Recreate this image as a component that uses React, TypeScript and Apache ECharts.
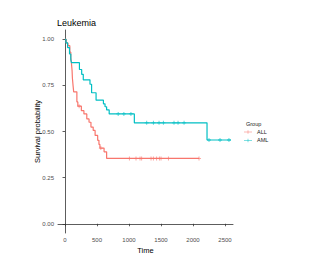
import React, { useEffect, useRef } from "react";
import * as echarts from "echarts";

const titleText = "Leukemia";
const groupNames = ["ALL", "AML"];
const groupColors = ["#F8766D", "#00BFC4"];

const allTimes = [0, 20, 45, 75, 90, 100, 110, 115, 125, 135, 185, 200, 255, 295, 340, 375, 405, 440, 470, 510, 530, 545, 610, 650, 2094];
const allSurv = [1, 0.98, 0.965, 0.93, 0.9, 0.87, 0.83, 0.79, 0.75, 0.715, 0.66, 0.637, 0.613, 0.595, 0.568, 0.55, 0.524, 0.506, 0.479, 0.452, 0.43, 0.41, 0.39, 0.354, 0.354];
const allCensor = [220, 560, 1005, 1109, 1172, 1198, 1344, 1380, 1432, 1474, 1500, 1615, 2094];

const amlTimes = [0, 15, 40, 70, 90, 100, 225, 260, 285, 390, 415, 485, 600, 625, 650, 690, 1083, 2219, 2594];
const amlSurv = [1, 0.98, 0.955, 0.92, 0.89, 0.873, 0.836, 0.81, 0.78, 0.756, 0.71, 0.67, 0.65, 0.634, 0.617, 0.595, 0.547, 0.454, 0.454];
const amlCensor = [830, 920, 1030, 1277, 1380, 1469, 1536, 1703, 1766, 1860, 2250, 2422, 2562];

const xTicks = [0, 500, 1000, 1500, 2000, 2500];
const yTicks = [0, 0.25, 0.5, 0.75, 1];

function survAt(times: number[], surv: number[], t: number) {
  let s = surv[0];
  for (let i = 0; i < times.length; i++) {
    if (times[i] <= t) s = surv[i];
  }
  return s;
}

const plusPath = "path://M4,0H6V4H10V6H6V10H4V6H0V4H4Z";
const legendIcon = "path://M0,4.5H16V5.5H0Z M7.5,1.5H8.5V8.5H7.5Z";

export default function App() {
  const ref = useRef<HTMLDivElement>(null);
  useEffect(() => {
    if (!ref.current) return;
    const chart = echarts.init(ref.current, null, { renderer: "svg" });
    const font = "Liberation Sans, Arial, sans-serif";
    const curves = [
      { times: allTimes, surv: allSurv, censor: allCensor },
      { times: amlTimes, surv: amlSurv, censor: amlCensor },
    ];
    const series: any[] = [];
    curves.forEach((c, i) => {
      series.push({
        name: groupNames[i],
        type: "line",
        step: "end",
        showSymbol: false,
        symbol: "none",
        data: c.times.map((t, j) => [t, c.surv[j]]),
        lineStyle: { color: groupColors[i], width: 1.2 },
        itemStyle: { color: groupColors[i] },
        z: 2,
      });
      series.push({
        name: groupNames[i] + "-censor",
        type: "scatter",
        symbol: plusPath,
        symbolSize: 4,
        data: c.censor.map((t) => [t, survAt(c.times, c.surv, t)]),
        itemStyle: { color: groupColors[i] },
        z: 3,
      });
    });
    chart.setOption({
      animation: false,
      title: [
        {
          text: titleText,
          left: 57,
          top: 18,
          padding: 0,
          textStyle: { fontFamily: font, fontSize: 9, fontWeight: "normal", color: "#000" },
        },
        {
          text: "Group",
          left: 246,
          top: 121,
          padding: 0,
          textStyle: { fontFamily: font, fontSize: 5.5, fontWeight: "normal", color: "#222" },
        },
      ],
      legend: {
        data: groupNames,
        orient: "vertical",
        left: 244,
        top: 129,
        padding: 0,
        itemWidth: 8,
        itemHeight: 5,
        itemGap: 2.4,
        icon: legendIcon,
        textStyle: { fontFamily: font, fontSize: 5.5, color: "#222" },
      },
      grid: { left: 58, right: 78, top: 30, bottom: 24, containLabel: false },
      xAxis: {
        type: "value",
        min: -110,
        max: 2625,
        name: "Time",
        nameLocation: "middle",
        nameGap: 13,
        nameMoveOverlap: false,
        nameTextStyle: { fontFamily: font, fontSize: 7.5, color: "#000" },
        splitLine: { show: false },
        axisLine: { show: true, lineStyle: { color: "#333", width: 0.8 } },
        axisTick: { show: true, length: 2.5, customValues: xTicks, lineStyle: { color: "#333", width: 0.8 } },
        axisLabel: {
          customValues: xTicks,
          fontFamily: font,
          fontSize: 6,
          color: "#4d4d4d",
          margin: 4,
          formatter: (v: number) => String(v),
        },
      },
      yAxis: {
        type: "value",
        min: -0.05,
        max: 1.05,
        name: "Survival probability",
        nameLocation: "middle",
        nameGap: 17,
        nameMoveOverlap: false,
        nameTextStyle: { fontFamily: font, fontSize: 7.5, color: "#000" },
        splitLine: { show: false },
        axisLine: { show: true, lineStyle: { color: "#333", width: 0.8 } },
        axisTick: { show: true, length: 2.5, customValues: yTicks, lineStyle: { color: "#333", width: 0.8 } },
        axisLabel: {
          customValues: yTicks,
          fontFamily: font,
          fontSize: 6,
          color: "#4d4d4d",
          margin: 4,
          formatter: (v: number) => v.toFixed(2),
        },
      },
      series,
    });
    return () => chart.dispose();
  }, []);
  return (
    <div
      ref={ref}
      style={{ position: "fixed", left: 0, top: 0, width: 311, height: 259, background: "#fff" }}
    />
  );
}
